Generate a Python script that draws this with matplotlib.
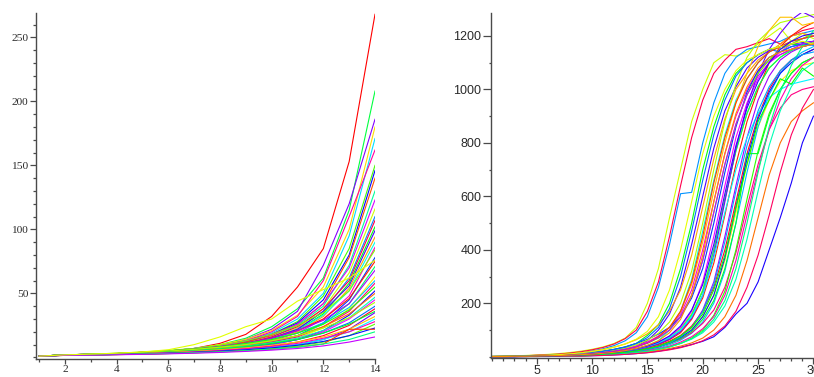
import numpy as np
import matplotlib
matplotlib.use("Agg")
import matplotlib.pyplot as plt
from matplotlib.ticker import MultipleLocator, FixedLocator

# x positions for both panels
left_x = list(range(1, 15))
right_x = list(range(1, 31))

# left panel: one list per run, values at x = 1..14
left_series = [
    [1, 2, 2.5, 3, 4, 5, 7, 11, 18, 32, 55, 85, 153, 268],
    [1, 2, 2.5, 3, 4, 5, 7, 10, 15, 24, 38, 62, 115, 208],
    [1, 2, 2.5, 3, 3.5, 5, 6, 9, 14, 22, 36, 72, 120, 186],
    [1, 1.8, 2.3, 3, 4, 5, 7, 10, 14, 21, 33, 55, 100, 180],
    [1, 2, 2.5, 3, 4, 5, 7, 9, 13, 19, 30, 50, 95, 171],
    [1, 2, 2.5, 3, 4, 5, 6, 9, 13, 20, 32, 60, 110, 162],
    [1, 2, 2.5, 3, 3.5, 4.5, 6, 8, 12, 18, 28, 48, 85, 150],
    [1, 1.8, 2.2, 2.8, 3.5, 4.5, 6, 8, 12, 18, 27, 45, 80, 146],
    [1, 2, 2.5, 3, 4, 5, 6.5, 9, 12, 17, 26, 42, 78, 140],
    [1, 1.8, 2.2, 2.8, 3.5, 4.5, 6, 8, 11, 16, 25, 40, 72, 130],
    [1, 2, 2.5, 3, 4, 5, 7, 9, 13, 18, 26, 42, 70, 123],
    [1, 1.8, 2.2, 2.7, 3.3, 4.2, 5.5, 7.5, 10, 15, 23, 38, 66, 116],
    [1, 2, 2.4, 3, 3.7, 4.6, 6, 8, 11, 15, 22, 36, 62, 110],
    [1, 1.9, 2.3, 2.9, 3.6, 4.5, 6, 8, 11, 16, 24, 38, 60, 107],
    [1, 1.8, 2.2, 2.7, 3.3, 4.2, 5.4, 7.2, 10, 14, 21, 34, 58, 102],
    [1, 2, 2.5, 3, 3.8, 4.8, 6, 8, 11, 15, 22, 36, 56, 99],
    [1, 1.8, 2.3, 2.8, 3.4, 4.3, 5.5, 7.5, 10, 14, 20, 32, 54, 94],
    [1, 2, 2.5, 3, 3.5, 4.5, 6, 8, 10, 14, 21, 33, 52, 90],
    [1, 1.8, 2.2, 2.7, 3.3, 4.1, 5.2, 7, 9.5, 13, 19, 30, 48, 86],
    [1, 2, 2.6, 3.3, 4.2, 5.5, 7, 9.5, 13, 18, 25, 35, 52, 84],
    [1, 1.8, 2.2, 2.6, 3.2, 4, 5, 6.5, 9, 12, 17, 27, 45, 78],
    [1, 1.9, 2.4, 3, 3.8, 4.8, 6.2, 8.2, 11, 15, 21, 30, 46, 75],
    [1, 1.8, 2.2, 2.7, 3.3, 4, 5, 6.6, 8.8, 12, 17, 26, 42, 71],
    [1, 2, 2.5, 3.1, 3.9, 5, 6.5, 8.5, 11, 15, 21, 29, 42, 68],
    [1, 1.8, 2.2, 2.6, 3.1, 3.8, 4.8, 6.2, 8.2, 11, 15, 23, 38, 63],
    [1, 1.9, 2.4, 3, 3.7, 4.7, 6, 8, 10.5, 14, 19, 27, 39, 60],
    [1, 1.8, 2.2, 2.7, 3.3, 4.1, 5.1, 6.7, 8.8, 12, 16, 24, 36, 58],
    [1, 2, 2.5, 3.1, 3.9, 5, 6.4, 8.3, 11, 14, 19, 26, 37, 55],
    [1, 1.7, 2, 2.4, 2.9, 3.6, 4.5, 5.8, 7.6, 10, 14, 21, 33, 52],
    [1, 1.9, 2.3, 2.8, 3.5, 4.4, 5.6, 7.3, 9.5, 13, 17, 24, 34, 50],
    [1, 1.8, 2.2, 2.7, 3.3, 4.1, 5.2, 6.8, 8.8, 11.5, 15, 21, 31, 47],
    [1, 1.7, 2.1, 2.5, 3, 3.7, 4.6, 6, 7.8, 10, 14, 20, 30, 45],
    [1, 2, 2.5, 3.2, 4, 5, 6.3, 8, 10, 13, 17, 23, 31, 43],
    [1, 1.8, 2.2, 2.6, 3.2, 3.9, 4.9, 6.2, 8, 10.5, 14, 19, 27, 40],
    [1, 1.7, 2, 2.4, 2.9, 3.5, 4.3, 5.4, 6.9, 9, 12, 17, 25, 38],
    [1, 1.9, 2.3, 2.8, 3.4, 4.2, 5.2, 6.6, 8.4, 11, 14, 19, 26, 36],
    [1, 1.7, 2, 2.3, 2.7, 3.2, 3.9, 4.8, 6, 7.7, 10, 14, 22, 35],
    [1, 1.8, 2.2, 2.6, 3.2, 3.9, 4.8, 6, 7.5, 9.5, 12, 16, 22, 32],
    [1, 1.7, 2, 2.4, 2.8, 3.4, 4.1, 5, 6.2, 7.8, 10, 14, 20, 30],
    [1, 1.8, 2.1, 2.5, 3, 3.6, 4.4, 5.4, 6.8, 8.6, 11, 15, 20, 28],
    [1, 1.6, 1.9, 2.2, 2.6, 3.1, 3.7, 4.5, 5.5, 6.9, 8.8, 12, 17, 26],
    [1, 1.7, 2, 2.4, 2.8, 3.3, 4, 4.9, 6, 7.5, 9.5, 12.5, 17, 23],
    [1, 1.6, 1.9, 2.2, 2.6, 3, 3.6, 4.3, 5.2, 6.4, 8, 10.5, 22, 22],
    [1, 1.7, 2, 2.3, 2.7, 3.1, 3.7, 4.4, 5.3, 6.5, 8, 10.5, 14, 20],
    [1, 1.6, 1.8, 2.1, 2.4, 2.8, 3.3, 3.9, 4.7, 5.7, 7, 9, 12, 16],
    [1, 2, 2.6, 3.3, 4.3, 6, 10, 16, 24, 30, 44, 53, 62, 76],
]

# right panel: one list per run, values at x = 1..30
right_series = [
    [2, 3, 4, 5, 7, 9, 12, 16, 21, 28, 37, 50, 70, 110, 200, 330, 520, 700, 880, 1000, 1100, 1130, 1125, 1140, 1170, 1200, 1230, 1180, 1210, 1190],
    [1, 2, 3, 4, 5, 7, 9, 12, 16, 22, 30, 42, 60, 90, 150, 260, 420, 610, 615, 800, 950, 1060, 1120, 1150, 1160, 1170, 1180, 1200, 1210, 1220],
    [1, 2, 3, 4, 6, 8, 10, 14, 19, 26, 35, 48, 68, 100, 170, 280, 450, 640, 820, 960, 1060, 1110, 1150, 1160, 1175, 1190, 1170, 1200, 1220, 1230],
    [1, 1, 2, 3, 4, 5, 7, 9, 12, 16, 21, 28, 37, 50, 80, 120, 200, 330, 500, 700, 860, 980, 1060, 1100, 1130, 1150, 1160, 1170, 1165, 1180],
    [1, 1, 2, 2, 3, 4, 5, 7, 9, 12, 16, 21, 28, 40, 60, 100, 160, 260, 420, 600, 780, 920, 1010, 1080, 1120, 1145, 1160, 1170, 1175, 1180],
    [1, 2, 3, 4, 5, 6, 8, 11, 15, 20, 27, 36, 48, 64, 86, 120, 170, 250, 380, 560, 740, 890, 1000, 1060, 1110, 1140, 1170, 1200, 1210, 1200],
    [0, 1, 1, 2, 3, 4, 5, 6, 8, 10, 13, 17, 22, 30, 42, 60, 100, 170, 290, 470, 660, 830, 960, 1040, 1100, 1140, 1160, 1180, 1190, 1200],
    [1, 1, 2, 3, 3, 4, 6, 8, 10, 13, 17, 22, 30, 40, 55, 78, 110, 160, 250, 400, 580, 760, 900, 1000, 1070, 1110, 1130, 1150, 1160, 1170],
    [0, 1, 1, 2, 2, 3, 4, 5, 7, 9, 12, 16, 21, 28, 37, 50, 72, 105, 160, 250, 400, 590, 770, 910, 1010, 1080, 1120, 1150, 1160, 1175],
    [1, 1, 2, 3, 4, 5, 7, 9, 12, 16, 21, 28, 37, 50, 65, 85, 110, 150, 220, 330, 500, 690, 860, 990, 1070, 1120, 1140, 1160, 1170, 1180],
    [0, 1, 1, 2, 2, 3, 4, 5, 6, 8, 11, 14, 19, 25, 34, 46, 64, 90, 140, 220, 350, 530, 720, 880, 1000, 1100, 1160, 1200, 1230, 1250],
    [1, 1, 2, 2, 3, 4, 5, 6, 8, 10, 13, 17, 22, 29, 38, 50, 70, 100, 155, 245, 400, 590, 770, 910, 1010, 1080, 1120, 1145, 1160, 1170],
    [0, 0, 1, 1, 2, 2, 3, 4, 5, 7, 9, 12, 16, 21, 28, 37, 52, 75, 110, 175, 280, 450, 640, 820, 960, 1050, 1110, 1140, 1160, 1170],
    [1, 1, 2, 2, 3, 3, 4, 5, 7, 9, 11, 14, 18, 24, 32, 42, 56, 76, 104, 150, 230, 360, 540, 720, 860, 960, 1030, 1070, 1090, 1100],
    [0, 1, 1, 1, 2, 2, 3, 4, 5, 6, 8, 11, 14, 19, 25, 33, 45, 62, 88, 130, 200, 320, 500, 690, 860, 980, 1060, 1110, 1140, 1160],
    [1, 1, 2, 2, 3, 3, 4, 5, 6, 8, 10, 13, 17, 22, 29, 38, 50, 66, 90, 125, 175, 260, 390, 560, 720, 850, 930, 980, 1000, 1010],
    [0, 0, 1, 1, 1, 2, 2, 3, 4, 5, 7, 9, 12, 16, 21, 28, 37, 50, 70, 100, 155, 245, 400, 590, 770, 910, 1000, 1060, 1100, 1120],
    [0, 0, 0, 1, 1, 1, 2, 2, 3, 4, 5, 7, 9, 12, 16, 21, 28, 36, 46, 58, 75, 110, 160, 200, 280, 400, 520, 650, 800, 900],
    [0, 1, 1, 1, 2, 2, 3, 3, 4, 5, 7, 9, 11, 14, 18, 24, 31, 40, 52, 70, 100, 150, 230, 360, 520, 680, 800, 880, 920, 950],
    [1, 1, 1, 2, 2, 3, 3, 4, 5, 6, 8, 10, 13, 17, 22, 29, 38, 50, 66, 90, 130, 190, 290, 440, 620, 790, 920, 1010, 1070, 1100],
    [1, 1, 2, 2, 3, 4, 5, 6, 8, 11, 14, 18, 24, 32, 42, 56, 76, 110, 170, 280, 450, 640, 820, 950, 1040, 1100, 1140, 1170, 1190, 1200],
    [1, 1, 2, 3, 4, 5, 6, 8, 11, 14, 19, 25, 33, 45, 62, 88, 130, 200, 320, 500, 700, 880, 1020, 1120, 1180, 1220, 1250, 1260, 1270, 1280],
    [1, 2, 2, 3, 4, 5, 7, 9, 12, 15, 20, 27, 36, 50, 72, 110, 180, 300, 470, 660, 830, 960, 1050, 1100, 1130, 1150, 1140, 1160, 1170, 1165],
    [0, 1, 1, 2, 2, 3, 4, 5, 6, 8, 10, 13, 17, 23, 31, 42, 58, 80, 115, 170, 260, 400, 580, 760, 900, 1000, 1070, 1110, 1130, 1150],
    [1, 1, 2, 2, 3, 3, 4, 5, 6, 8, 10, 13, 17, 22, 29, 38, 50, 68, 95, 140, 210, 330, 500, 760, 760, 900, 1000, 1060, 1100, 1120],
    [0, 1, 1, 2, 2, 3, 4, 5, 7, 9, 12, 15, 20, 27, 36, 48, 66, 95, 145, 230, 380, 580, 780, 940, 1060, 1150, 1210, 1260, 1290, 1270],
    [1, 1, 2, 3, 3, 4, 5, 7, 9, 12, 16, 21, 28, 38, 52, 75, 110, 170, 270, 430, 620, 800, 950, 1060, 1160, 1220, 1270, 1270, 1240, 1250],
    [1, 1, 2, 2, 3, 4, 5, 6, 8, 10, 13, 17, 22, 29, 39, 52, 72, 100, 150, 230, 370, 540, 700, 820, 910, 970, 1000, 1020, 1030, 1040],
    [0, 1, 1, 1, 2, 2, 3, 4, 5, 6, 8, 10, 13, 17, 23, 30, 40, 55, 75, 105, 150, 230, 360, 530, 700, 850, 960, 1040, 1090, 1120],
    [1, 1, 2, 2, 3, 4, 5, 7, 9, 12, 16, 21, 28, 37, 50, 70, 100, 150, 230, 360, 540, 720, 870, 980, 1060, 1110, 1150, 1170, 1190, 1210],
    [1, 1, 1, 2, 2, 3, 4, 5, 6, 8, 10, 13, 17, 22, 29, 38, 52, 72, 100, 150, 230, 370, 560, 740, 890, 990, 1060, 1100, 1130, 1150],
    [1, 1, 2, 2, 3, 4, 5, 6, 8, 11, 15, 20, 27, 37, 52, 75, 110, 170, 280, 450, 650, 820, 950, 1040, 1100, 1140, 1160, 1180, 1190, 1200],
    [0, 0, 1, 1, 2, 2, 3, 3, 4, 5, 7, 9, 12, 16, 21, 28, 37, 50, 68, 95, 140, 210, 330, 500, 690, 860, 990, 1090, 1160, 1220],
    [1, 1, 2, 2, 3, 4, 5, 7, 9, 12, 16, 21, 28, 38, 52, 72, 100, 150, 230, 360, 540, 720, 870, 980, 1050, 1100, 1130, 1150, 1170, 1180],
    [1, 2, 3, 4, 5, 6, 8, 11, 15, 20, 27, 36, 48, 66, 95, 150, 250, 400, 580, 760, 900, 1000, 1070, 1110, 1130, 1150, 1160, 1170, 1180, 1170],
    [0, 1, 1, 2, 2, 3, 3, 4, 5, 7, 9, 12, 16, 21, 28, 38, 52, 75, 110, 170, 270, 430, 620, 790, 920, 1010, 1070, 1110, 1130, 1140],
    [0, 0, 1, 1, 1, 2, 2, 3, 3, 4, 5, 7, 9, 12, 15, 20, 26, 34, 45, 60, 82, 115, 170, 260, 380, 530, 690, 830, 930, 1000],
    [1, 1, 2, 2, 3, 3, 4, 5, 6, 8, 10, 13, 17, 22, 30, 40, 55, 78, 110, 160, 250, 380, 560, 720, 880, 960, 1040, 1020, 1080, 1050],
    [1, 1, 2, 2, 3, 3, 4, 6, 7, 10, 13, 17, 22, 30, 40, 55, 78, 115, 175, 270, 420, 610, 790, 930, 1030, 1100, 1150, 1180, 1200, 1210],
    [1, 1, 2, 2, 3, 4, 5, 6, 8, 10, 13, 17, 23, 31, 43, 60, 90, 140, 230, 380, 580, 760, 910, 1010, 1080, 1120, 1140, 1150, 1160, 1170],
]

axis_col = "#4a4a4a"
text_col = "#2a2a2a"


def run_colours(n, offset):
    # bright maple-like colours, spread around the hue wheel
    return [plt.cm.hsv((offset + i * 0.381966) % 1.0) for i in range(n)]


def style_axes(ax):
    for side in ["top", "right"]:
        ax.spines[side].set_visible(False)
    for side in ["left", "bottom"]:
        ax.spines[side].set_color(axis_col)
        ax.spines[side].set_linewidth(1.0)
    ax.set_facecolor("white")


fig = plt.figure(figsize=(8.14, 3.77), dpi=100)

# ---- left panel
ax1 = fig.add_axes([0.0439, 0.0485, 0.4168, 0.917])
for vals, col in zip(left_series, run_colours(len(left_series), 0.0)):
    ax1.plot(left_x, vals, color=col, lw=0.8)
ax1.set_xlim(0.87, 14)
ax1.set_ylim(-1, 269)
style_axes(ax1)
ax1.xaxis.set_major_locator(FixedLocator([2, 4, 6, 8, 10, 12, 14]))
ax1.xaxis.set_minor_locator(FixedLocator([1, 3, 5, 7, 9, 11, 13]))
ax1.yaxis.set_major_locator(FixedLocator([50, 100, 150, 200, 250]))
ax1.yaxis.set_minor_locator(MultipleLocator(10))
ax1.tick_params(axis="x", which="major", length=3.3, width=0.9, color=axis_col, pad=1)
ax1.tick_params(axis="x", which="minor", length=2.2, width=0.9, color=axis_col)
ax1.tick_params(axis="y", which="major", length=4.6, width=0.9, color=axis_col, pad=0.8)
ax1.tick_params(axis="y", which="minor", length=2.4, width=0.9, color=axis_col)
for lab in ax1.get_xticklabels() + ax1.get_yticklabels():
    lab.set_fontfamily("Liberation Serif")
    lab.set_fontsize(8.2)
    lab.set_color(text_col)

# ---- right panel
ax2 = fig.add_axes([0.6028, 0.0496, 0.3972, 0.9167])
for vals, col in zip(right_series, run_colours(len(right_series), 0.2)):
    ax2.plot(right_x, vals, color=col, lw=0.8)
ax2.set_xlim(0.85, 30.05)
ax2.set_ylim(-5.6, 1287)
style_axes(ax2)
ax2.xaxis.set_major_locator(FixedLocator([5, 10, 15, 20, 25, 30]))
ax2.xaxis.set_minor_locator(MultipleLocator(1))
ax2.yaxis.set_major_locator(FixedLocator([200, 400, 600, 800, 1000, 1200]))
ax2.yaxis.set_minor_locator(MultipleLocator(100))
ax2.tick_params(axis="x", which="major", length=4.0, width=0.9, color=axis_col, pad=1)
ax2.tick_params(axis="x", which="minor", length=2.4, width=0.9, color=axis_col)
ax2.tick_params(axis="y", which="major", length=5.5, width=0.9, color=axis_col, pad=1.2)
ax2.tick_params(axis="y", which="minor", length=1.6, width=0.9, color=axis_col)
for lab in ax2.get_xticklabels() + ax2.get_yticklabels():
    lab.set_fontfamily("Liberation Sans")
    lab.set_fontsize(9)
    lab.set_color(text_col)

fig.savefig("out.png", dpi=100, facecolor="white")
